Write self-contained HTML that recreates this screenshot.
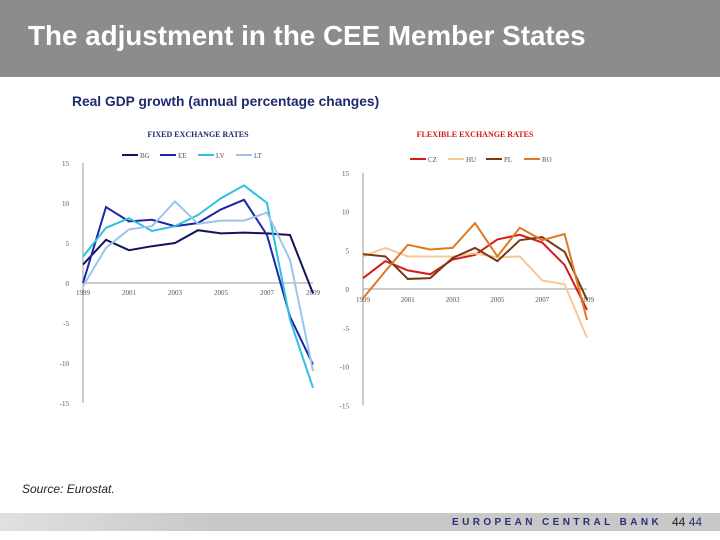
<!DOCTYPE html>
<html><head><meta charset="utf-8"><style>
body{margin:0;width:720px;height:540px;background:#fff;position:relative;overflow:hidden;font-family:"Liberation Sans",sans-serif}
#hdr{position:absolute;left:0;top:0;width:720px;height:77px;background:#8c8c8c}
#hdr h1{margin:0;position:absolute;left:28px;top:20px;font-size:27.8px;color:#fff;font-weight:bold;white-space:nowrap}
#sub{position:absolute;left:72px;top:94px;font-size:13.8px;font-weight:bold;color:#1f2a6b;white-space:nowrap}
#src{position:absolute;left:22px;top:482px;font-size:12px;font-style:italic;color:#222}
#ftr{position:absolute;left:0;top:513px;width:720px;height:18px;background:linear-gradient(90deg,#e0e0e0,#c8c8c8 30%,#c8c8c8)}
#ecb{position:absolute;left:452px;top:4px;font-size:10px;font-weight:bold;letter-spacing:3.4px;color:#2a2f7a}
#pg{position:absolute;left:672px;top:2px;font-size:12px;color:#222}
svg{position:absolute;left:0;top:0}
</style></head><body>
<div id="hdr"><h1>The adjustment in the CEE Member States</h1></div>
<div id="sub">Real GDP growth (annual percentage changes)</div>
<div id="src">Source: Eurostat.</div>
<div id="ftr"><span id="ecb">EUROPEAN CENTRAL BANK</span><span id="pg">44 <span style="color:#2a2f7a">44</span></span></div>
<svg id="c" width="720" height="540"></svg>
<script>
const years=[1999,2000,2001,2002,2003,2004,2005,2006,2007,2008,2009];
const yTicks=[15,10,5,0,-5,-10,-15];
const xTickLabels=[1999,2001,2003,2005,2007,2009];
const fixedNames=["BG","EE","LV","LT"];
const bgVals=[2.3,5.4,4.1,4.6,5.0,6.6,6.2,6.3,6.2,6.0,-1.3];
const eeVals=[0,9.5,7.7,7.9,7.1,7.5,9.2,10.4,6.0,-4.2,-10.2];
const lvVals=[3.3,6.9,8.1,6.5,7.1,8.5,10.6,12.2,10.0,-4.6,-13.1];
const ltVals=[-0.4,4.4,6.7,7.1,10.2,7.4,7.8,7.8,8.8,2.9,-11.0];
const flexNames=["CZ","HU","PL","RO"];
const czVals=[1.4,3.6,2.4,1.9,3.8,4.4,6.4,7.0,6.0,3.1,-2.7];
const huVals=[4.2,5.3,4.2,4.2,4.2,4.6,4.1,4.2,1.1,0.6,-6.3];
const plVals=[4.5,4.2,1.3,1.4,4.0,5.3,3.6,6.3,6.7,4.8,-1.4];
const roVals=[-1.2,2.3,5.7,5.1,5.3,8.5,4.2,7.9,6.3,7.1,-4.0];
const NS="http://www.w3.org/2000/svg",svg=document.getElementById('c');
function mk(t,a,p){const e=document.createElementNS(NS,t);for(const k in a)e.setAttribute(k,a[k]);(p||svg).appendChild(e);return e;}
function chart(o){
  const g=mk('g',{});
  
  
  const X=y=>o.x0+(y-1999)*(o.x1-o.x0)/10, Y=v=>o.y0-v*o.ppu;
  const t=mk('text',{x:(o.x0+o.x1)/2,y:o.ty,'text-anchor':'middle','font-family':'Liberation Serif,serif','font-size':8,'font-weight':'bold',fill:o.tc},g);t.textContent=o.title;
  
  
  mk('line',{x1:o.x0,x2:o.x0,y1:Y(15),y2:Y(-15),stroke:'#999','stroke-width':1},g);
  mk('line',{x1:o.x0,x2:o.x1,y1:Y(0),y2:Y(0),stroke:'#999','stroke-width':1},g);
  yTicks.forEach(v=>{const e=mk('text',{x:o.x0-14,y:Y(v)+3,'text-anchor':'end','font-family':'Liberation Serif,serif','font-size':7,fill:'#555'},g);e.textContent=v;
    
    });
  xTickLabels.forEach(v=>{const e=mk('text',{x:X(v),y:Y(0)+o.xl,'text-anchor':'middle','font-family':'Liberation Serif,serif','font-size':7,fill:'#555'},g);e.textContent=v;
    
    });
  o.series.forEach((s,i)=>{
    const p=mk('polyline',{points:s.v.map((v,j)=>X(years[j])+','+Y(v)).join(' '),fill:'none',stroke:s.c,'stroke-width':2},g);
    
    
    const lx=o.lx+i*38;
    const l=mk('line',{x1:lx,x2:lx+16,y1:o.ly,y2:o.ly,stroke:s.c,'stroke-width':2},g);
    
    
    const lt=mk('text',{x:lx+18,y:o.ly+3,'font-family':'Liberation Serif,serif','font-size':7,fill:'#555'},g);lt.textContent=s.n;
    
    
  });
}
chart({id:'fixed-chart',title:'FIXED EXCHANGE RATES',tc:'#1f2a6b',x0:83,x1:313,y0:283,ppu:8,ty:137,lx:122,ly:155,xl:12,
 series:[{n:fixedNames[0],v:bgVals,c:'#14145a'},{n:fixedNames[1],v:eeVals,c:'#1a28a8'},{n:fixedNames[2],v:lvVals,c:'#2fc0e0'},{n:fixedNames[3],v:ltVals,c:'#9cc4ea'}]});
chart({id:'flexible-chart',title:'FLEXIBLE EXCHANGE RATES',tc:'#d01818',x0:363,x1:587,y0:289,ppu:7.75,ty:137,lx:410,ly:159,xl:13,
 series:[{n:flexNames[0],v:czVals,c:'#d41c1c'},{n:flexNames[1],v:huVals,c:'#f5c89a'},{n:flexNames[2],v:plVals,c:'#7a3a10'},{n:flexNames[3],v:roVals,c:'#e07820'}]});
</script>
</body></html>
